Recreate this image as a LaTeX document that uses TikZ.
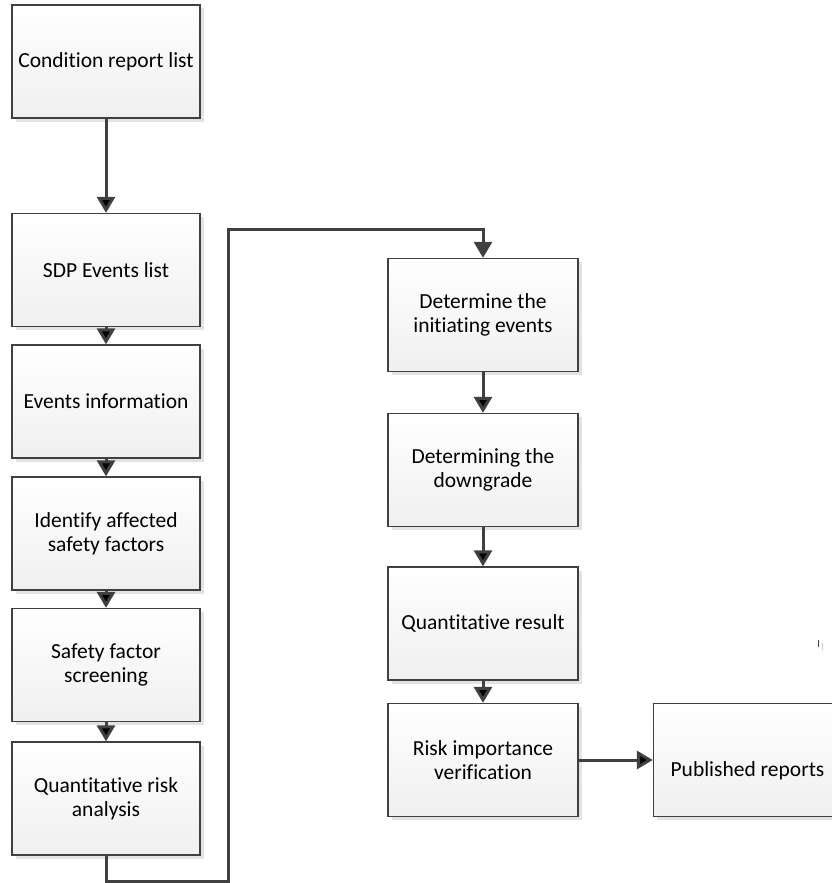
\documentclass[tikz,border=0pt]{standalone}
\usepackage{fontspec}
\setmainfont[Ligatures=NoCommon]{Carlito}
\usetikzlibrary{arrows.meta,shadows}
\definecolor{linegray}{HTML}{404040}
\begin{document}
\begin{tikzpicture}[x=1pt, y=-1pt, >={Triangle[length=16pt,width=18pt]},
  flow/.style={->, draw=linegray, line width=3pt},
  main box/.style={rectangle, draw=linegray, line width=1.3pt, top color=white, bottom color=gray!12,
    drop shadow={shadow xshift=3.5pt, shadow yshift=-3.5pt, fill=gray!22, opacity=1},
    minimum width=188pt, minimum height=113pt, inner sep=0pt, align=center,
    font=\fontsize{21.5}{24}\selectfont}]
\useasboundingbox (0,0) rectangle (832,883);
\clip (0,0) rectangle (832,883);
\begin{scope}
\node[main box] (crl) at (106,61.5) {Condition report list};
\node[main box] (sdp) at (106,270) {SDP Events list};
\node[main box] (evi) at (106,401.5) {Events information};
\node[main box] (iasf) at (106,533.5) {Identify affected\\safety factors};
\node[main box] (sfs) at (106,665) {Safety factor\\screening};
\node[main box] (qra) at (106,798.5) {Quantitative risk\\analysis};
\node[main box, minimum width=190pt] (die) at (483,315) {Determine the\\initiating events};
\node[main box, minimum width=190pt] (dtd) at (483,470) {Determining the\\downgrade};
\node[main box, minimum width=190pt] (qre) at (483,623.5) {Quantitative result};
\node[main box, minimum width=190pt] (riv) at (483,760) {Risk importance\\verification};
\node[main box, text height=38pt, text depth=5pt] (pub) at (747.5,760) {Published reports};
%\node[main box] (v) at (,) {};
\end{scope}
\coordinate (low) at (228,881);
\coordinate (high) at (228,229);
\begin{scope}
\draw[flow] (crl) edge (sdp);
\draw[flow] (sdp) edge (evi);
\draw[flow] (evi) edge (iasf);
\draw[flow] (iasf) edge (sfs);
\draw[flow] (sfs) edge (qra);
\draw[flow] (qra.south) |- (low) -- (high) -| (die.north);
\draw[flow] (die) edge (dtd);
\draw[flow] (dtd) edge (qre);
\draw[flow] (qre) edge (riv);
\draw[flow] (riv) edge (pub);
\end{scope}
% stray tick at the right
\draw[linegray, line width=1pt] (818,640) -- (818,647);
\draw[gray!40, line width=1pt] (822,643) -- (822,650);
\end{tikzpicture}
\end{document}
